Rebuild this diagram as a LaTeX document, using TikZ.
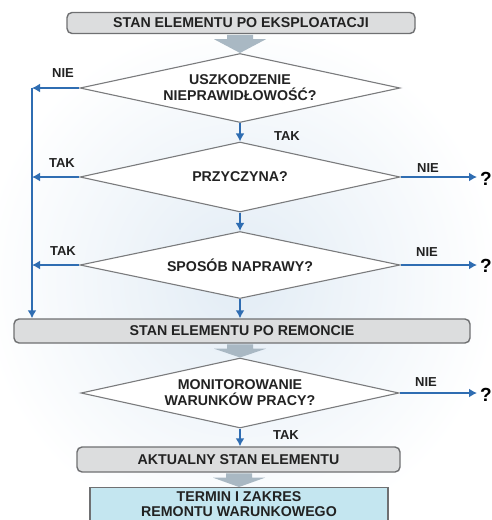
\documentclass[tikz,border=0pt]{standalone}
\usepackage{fontspec}
\setmainfont{Liberation Sans}
\usetikzlibrary{calc,shapes.geometric,arrows.meta}
\definecolor{bluel}{HTML}{2F6DB2}
\definecolor{boxfill}{HTML}{DCDDDE}
\definecolor{boxdraw}{HTML}{6F7072}
\definecolor{diadraw}{HTML}{7A7B7D}
\definecolor{fatc}{HTML}{A9B8C3}
\definecolor{cyanfill}{HTML}{C4E6F0}
\definecolor{txt}{HTML}{222222}
\definecolor{bgc}{HTML}{E2ECF5}
\newcommand\fatarrow[2]{\fill[fatc] let \p1=(#1), \p2=(#2) in
  (\x2-13pt,\y1-0.7pt) -- (\x2+13pt,\y1-0.7pt) -- (\x2+13pt,\y1-5pt) -- (\x2+26pt,\y1-5pt)
  -- (\x2,\y2) -- (\x2-26pt,\y1-5pt) -- (\x2-13pt,\y1-5pt) -- cycle;}
\begin{document}
\begin{tikzpicture}[x=1pt,y=-1pt,
 every node/.style={font=\fontsize{14.2}{16}\selectfont\bfseries, text=txt},
 graybox/.style={draw=boxdraw, line width=1.4pt, fill=boxfill, rounded corners=5pt, inner sep=0pt},
 dia/.style={diamond, draw=diadraw, line width=1.1pt, fill=white, aspect=4.6, inner sep=0pt, align=center},
 lab/.style={font=\fontsize{13}{14}\selectfont\bfseries},
 qm/.style={font=\fontsize{19}{20}\selectfont\bfseries, text=black, inner sep=1pt},
 barrow/.style={draw=bluel, line width=1.8pt, -{Latex[length=8pt,width=9pt]}},
]
\useasboundingbox (0,0) rectangle (492,520);
\shade[inner color=bgc, outer color=white] (-20,20) rectangle (500,540);

\node[graybox, minimum width=348pt, minimum height=21pt] (top) at (241,23) {STAN ELEMENTU PO EKSPLOATACJI};
\node[dia, minimum width=320pt, minimum height=69pt] (d1) at (240,88) {USZKODZENIE\\NIEPRAWIDŁOWOŚĆ?};
\node[dia, minimum width=320pt, minimum height=70pt] (d2) at (240,177) {PRZYCZYNA?};
\node[dia, minimum width=320pt, minimum height=67pt] (d3) at (240,265) {SPOSÓB NAPRAWY?};
\node[graybox, minimum width=456pt, minimum height=24pt] (b2) at (242,331) {STAN ELEMENTU PO REMONCIE};
\node[dia, minimum width=318pt, minimum height=70pt] (d4) at (240,393) {MONITOROWANIE\\WARUNKÓW PRACY?};
\node[graybox, minimum width=323pt, minimum height=25pt] (b3) at (238.5,459.5) {AKTUALNY STAN ELEMENTU};
\node[draw=boxdraw, line width=1.4pt, fill=cyanfill, minimum width=298pt, minimum height=50pt, anchor=north, inner sep=0pt] (b4) at (239,487) {};
\node[align=center, inner sep=0pt, font=\fontsize{14.2}{15}\selectfont\bfseries] (b4t) at (239,504) {TERMIN I ZAKRES\\REMONTU WARUNKOWEGO};

\fatarrow{top.south}{d1.north}
\fatarrow{b2.south}{d4.north}
\fatarrow{b3.south}{b4.north}

\draw[barrow] (d1.south) -- (d2.north);
\draw[barrow] (d2.south) -- (d3.north);
\draw[barrow] (d3.south) -- (d3.south |- b2.north);
\draw[barrow] (d4.south) -- (d4.south |- b3.north);

\coordinate (lx) at (32,0);
\draw[barrow] (d1.west) -- (d1.west -| lx);
\draw[barrow] (d1.west -| lx) -- (lx |- b2.north);
\draw[barrow] (d2.west) -- (d2.west -| lx);
\draw[barrow] (d3.west) -- (d3.west -| lx);

\node[qm] (q2) at (486,179) {?};
\node[qm] (q3) at (486,266) {?};
\node[qm] (q4) at (486,395) {?};
\draw[barrow, shorten >=2pt] (d2.east) -- (d2.east -| q2.west);
\draw[barrow, shorten >=2pt] (d3.east) -- (d3.east -| q3.west);
\draw[barrow, shorten >=2pt] (d4.east) -- (d4.east -| q4.west);

\node[lab] (n1) at (63,73) {NIE};
\node[lab] (t1) at (287,136) {TAK};
\node[lab] (t2) at (62,163) {TAK};
\node[lab] (n2) at (428,168) {NIE};
\node[lab] (t3) at (63,251) {TAK};
\node[lab] (n3) at (427,252) {NIE};
\node[lab] (n4) at (426,382) {NIE};
\node[lab] (t4) at (286,435) {TAK};
\end{tikzpicture}
\end{document}
